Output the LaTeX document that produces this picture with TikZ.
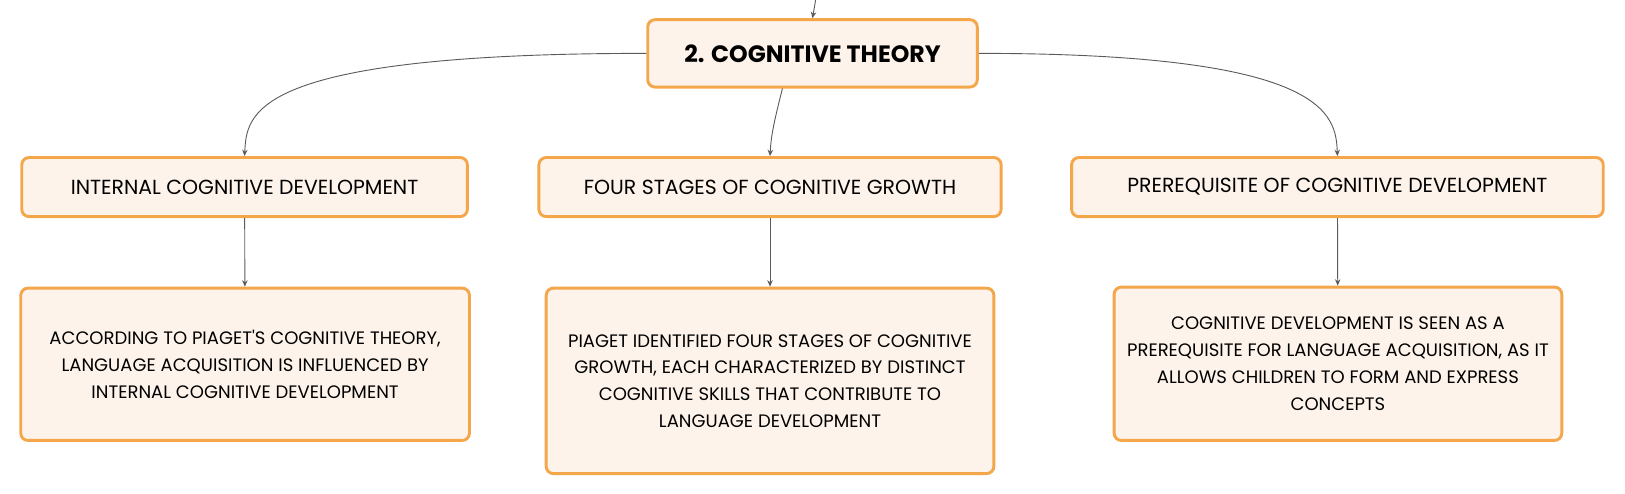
\documentclass[tikz,border=0pt]{standalone}
\usepackage{fontspec}
\setmainfont{Poppins}
\usetikzlibrary{arrows.meta}
\definecolor{boxline}{HTML}{F4A64B}
\definecolor{boxfill}{HTML}{FDF3EA}
\definecolor{edgegray}{HTML}{5A5A5A}
\begin{document}
\begin{tikzpicture}[
  box/.style={draw=boxline, fill=boxfill, line width=1.6pt, rounded corners=4pt, align=center, font=\fontsize{9.9}{14.7}\selectfont},
  head/.style={box, minimum height=1.14cm, font=\fontsize{11.2}{14}\selectfont},
  edge/.style={draw=edgegray, line width=0.5pt, -{Stealth[length=3.5pt,width=3pt]}}
]
  \useasboundingbox (0,0) rectangle (31.36,-9.53);
  \begin{scope}
    % Define node positions
    \coordinate (in) at (15.74,0);
    \node[box, minimum width=6.36cm, minimum height=1.3cm, font=\fontsize{13}{15}\selectfont\bfseries] (theory) at (15.68,-1.03) {2. COGNITIVE THEORY};

    \node[head, minimum width=8.6cm] (internal) at (4.72,-3.61) {INTERNAL COGNITIVE DEVELOPMENT};
    \node[head, minimum width=8.92cm] (stages) at (14.86,-3.61) {FOUR STAGES OF COGNITIVE GROWTH};
    \node[head, minimum width=10.26cm] (prereq) at (25.81,-3.61) {PREREQUISITE OF COGNITIVE DEVELOPMENT};

    \node[box, minimum width=8.66cm, minimum height=2.94cm] (internaltxt) at (4.73,-7.03) {ACCORDING TO PIAGET\textquotesingle S COGNITIVE THEORY,\\LANGUAGE ACQUISITION IS INFLUENCED BY\\INTERNAL COGNITIVE DEVELOPMENT};
    \node[box, minimum width=8.64cm, minimum height=3.58cm] (stagestxt) at (14.86,-7.35) {PIAGET IDENTIFIED FOUR STAGES OF COGNITIVE\\GROWTH, EACH CHARACTERIZED BY DISTINCT\\COGNITIVE SKILLS THAT CONTRIBUTE TO\\LANGUAGE DEVELOPMENT};
    \node[box, minimum width=8.64cm, minimum height=2.96cm] (prereqtxt) at (25.82,-7.02) {COGNITIVE DEVELOPMENT IS SEEN AS A\\PREREQUISITE FOR LANGUAGE ACQUISITION, AS IT\\ALLOWS CHILDREN TO FORM AND EXPRESS\\CONCEPTS};

    % Draw edges
    \draw[edge] (in) -- (theory.north);

    \draw[edge] (theory.west) .. controls (4.8,-1.03) and (4.76,-2.2) .. (internal.north);
    \draw[edge] ([xshift=-0.58cm]theory.south) .. controls (14.95,-2.3) and (14.88,-2.6) .. (stages.north);
    \draw[edge] (theory.east) .. controls (25.6,-1.03) and (25.78,-2.2) .. (prereq.north);

    \draw[edge] (internal) -- (internaltxt);
    \draw[edge] (stages) -- (stagestxt);
    \draw[edge] (prereq) -- (prereqtxt);
  \end{scope}
\end{tikzpicture}
\end{document}
